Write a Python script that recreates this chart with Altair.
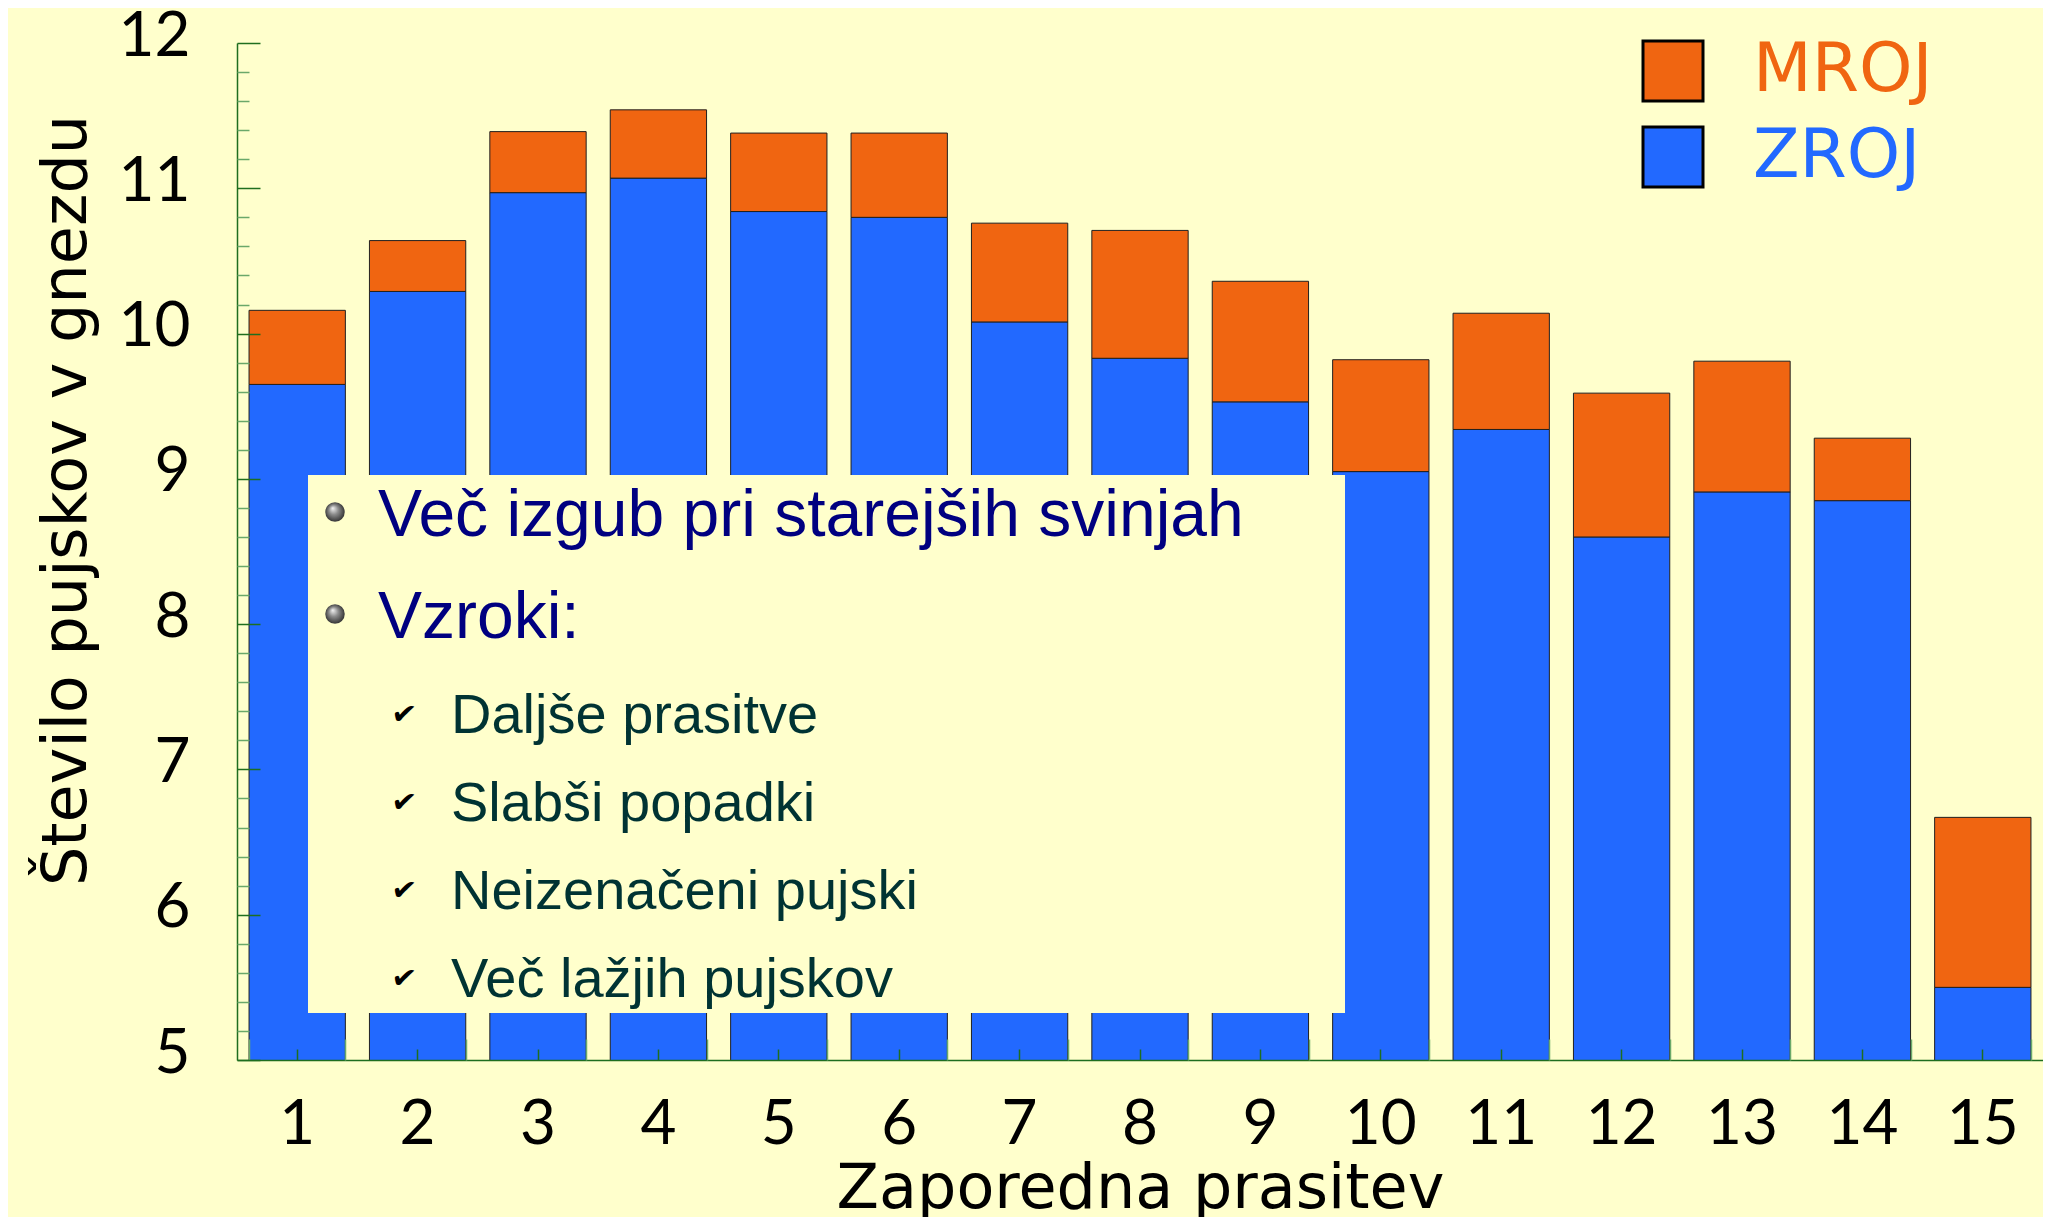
import altair as alt
import pandas as pd

# ---- data ----
prasitve = [str(i) for i in range(1, 16)]
zroj = [9.65, 10.29, 10.97, 11.07, 10.84, 10.80, 10.08, 9.83, 9.53, 9.05, 9.34, 8.60, 8.91, 8.85, 5.50]
mroj = [0.51, 0.35, 0.42, 0.47, 0.54, 0.58, 0.68, 0.88, 0.83, 0.77, 0.80, 0.99, 0.90, 0.43, 1.17]
series = ["MROJ", "ZROJ"]
series_colors = ["#F06511", "#2269FF"]
y_major = [5, 6, 7, 8, 9, 10, 11, 12]
y_minor = [round(5 + i * 0.2, 1) for i in range(36) if i % 5 != 0]

main_points = ["Več izgub pri starejših svinjah", "Vzroki:"]
sub_points = ["Daljše prasitve", "Slabši popadki", "Neizenačeni pujski", "Več lažjih pujskov"]

x_title = "Zaporedna prasitev"
y_title = "Število pujskov v gnezdu"

rows = []
for p, z, m in zip(prasitve, zroj, mroj):
    rows.append({"prasitev": p, "vrsta": "ZROJ", "value": z, "ord": 0})
    rows.append({"prasitev": p, "vrsta": "MROJ", "value": m, "ord": 1})
df = pd.DataFrame(rows)
one = pd.DataFrame({"k": [0]})

W, H = 1806, 1017
NUMFONT = "Comic Sans MS, Lato, sans-serif"
TITLEFONT = "Comic Sans MS, DejaVu Sans, sans-serif"
ARIAL = "Liberation Sans, Arial, sans-serif"
DARK_GREEN = "#1F6E1F"
LIGHT_GREEN = "#6AA86A"

xscale = alt.Scale(type="band", paddingInner=0.2, paddingOuter=0.1)
yscale = alt.Scale(domain=[5, 12], zero=False, nice=False)

bars = alt.Chart(df).mark_bar(stroke="#202020", strokeWidth=1, clip=True).encode(
    x=alt.X("prasitev:O", sort=prasitve, scale=xscale,
            axis=alt.Axis(orient="bottom", title=x_title, ticks=False, labelAngle=0,
                          labelFont=NUMFONT, labelFontSize=62, labelColor="black",
                          labelBaseline="alphabetic", labelPadding=83,
                          domainColor=DARK_GREEN, domainWidth=1.5,
                          titleFont=TITLEFONT, titleFontSize=62, titleFontWeight="normal",
                          titleColor="black", titleBaseline="alphabetic", titleY=147,
                          zindex=1)),
    y=alt.Y("value:Q", stack="zero", scale=yscale,
            axis=alt.Axis(orient="left", title=y_title, ticks=False, values=y_major,
                          labelFont=NUMFONT, labelFontSize=62, labelColor="black",
                          labelPadding=47, labelOffset=-7,
                          domainColor=DARK_GREEN, domainWidth=1.5, grid=False,
                          titleFont=TITLEFONT, titleFontSize=62, titleFontWeight="normal",
                          titleColor="black", titleAngle=270, titleAlign="center",
                          titleBaseline="alphabetic", titleX=-152, titleY=457,
                          zindex=1)),
    color=alt.Color("vrsta:N", scale=alt.Scale(domain=series, range=series_colors),
                    legend=alt.Legend(title=None, orient="none", legendX=1402, legendY=-6,
                                      symbolType="square", symbolSize=3600,
                                      symbolStrokeColor="black", symbolStrokeWidth=3,
                                      symbolOpacity=1, padding=0,
                                      labelFont=TITLEFONT, labelFontSize=68, labelLimit=400,
                                      labelColor={"expr": "datum.value === 'MROJ' ? '#F06511' : '#2269FF'"},
                                      labelOffset=46, rowPadding=14)),
    order=alt.Order("ord:Q"),
)

tick_a = alt.Chart(df).mark_point(opacity=0).encode(
    x=alt.X("prasitev:O", sort=prasitve, scale=xscale,
            axis=alt.Axis(orient="top", offset=-H, labels=False, domain=False, title=None,
                          tickBand="center", tickSize=11, tickColor=DARK_GREEN,
                          tickWidth=1.5, zindex=2)),
    y=alt.Y("value:Q", scale=yscale,
            axis=alt.Axis(orient="right", offset=-W, labels=False, domain=False, title=None,
                          values=y_major, tickSize=23, tickColor=DARK_GREEN, tickWidth=1.5,
                          grid=False, zindex=2)),
)

tick_b = alt.Chart(df).mark_point(opacity=0).encode(
    x=alt.X("prasitev:O", sort=prasitve, scale=xscale,
            axis=alt.Axis(orient="top", offset=-H, labels=False, domain=False, title=None,
                          tickBand="extent", tickSize=21, tickColor=LIGHT_GREEN,
                          tickWidth=1.5, zindex=2)),
    y=alt.Y("value:Q", scale=yscale,
            axis=alt.Axis(orient="right", offset=-W, labels=False, domain=False, title=None,
                          values=y_minor, tickSize=12, tickColor=LIGHT_GREEN, tickWidth=1.5,
                          grid=False, zindex=2)),
)

box = alt.Chart(one).mark_rect(fill="#FFFFCC").encode(
    x=alt.value(71), x2=alt.value(1108), y=alt.value(432), y2=alt.value(970)
)

layers = [bars, box, tick_a, tick_b]

bullet_fill = {
    "gradient": "radial",
    "x1": 0.38, "y1": 0.3, "r1": 0.0,
    "x2": 0.5, "y2": 0.5, "r2": 0.55,
    "stops": [
        {"offset": 0.0, "color": "#f4f4f4"},
        {"offset": 0.45, "color": "#8a8a8a"},
        {"offset": 1.0, "color": "#2a2a2a"},
    ],
}

main_baselines = [493, 595]
for i, txt in enumerate(main_points):
    layers.append(alt.Chart(one).mark_text(
        text=txt, font=ARIAL, fontSize=66, color="#000080", align="left",
        baseline="alphabetic").encode(x=alt.value(141), y=alt.value(main_baselines[i])))
    layers.append(alt.Chart(one).mark_point(
        shape="circle", filled=True, size=380, fill=bullet_fill, strokeWidth=0,
        opacity=1).encode(x=alt.value(98), y=alt.value(main_baselines[i] - 24)))

for i, txt in enumerate(sub_points):
    yb = 690 + 88 * i
    layers.append(alt.Chart(one).mark_text(
        text=txt, font=ARIAL, fontSize=56, color="#003333", align="left",
        baseline="alphabetic").encode(x=alt.value(214), y=alt.value(yb)))
    layers.append(alt.Chart(one).mark_text(
        text="✔", font="DejaVu Sans", fontSize=30, color="black", align="center",
        baseline="middle", angle=6).encode(x=alt.value(167), y=alt.value(yb - 18)))

chart = alt.layer(*layers).resolve_axis(x="independent", y="independent").properties(
    width=W, height=H,
    autosize=alt.AutoSizeParams(type="none"),
    padding={"left": 229, "top": 35, "right": 0, "bottom": 157},
    background="#FFFFCC",
).configure_view(strokeWidth=0)

chart.save("out.html", embed_options={"renderer": "svg", "actions": False})
